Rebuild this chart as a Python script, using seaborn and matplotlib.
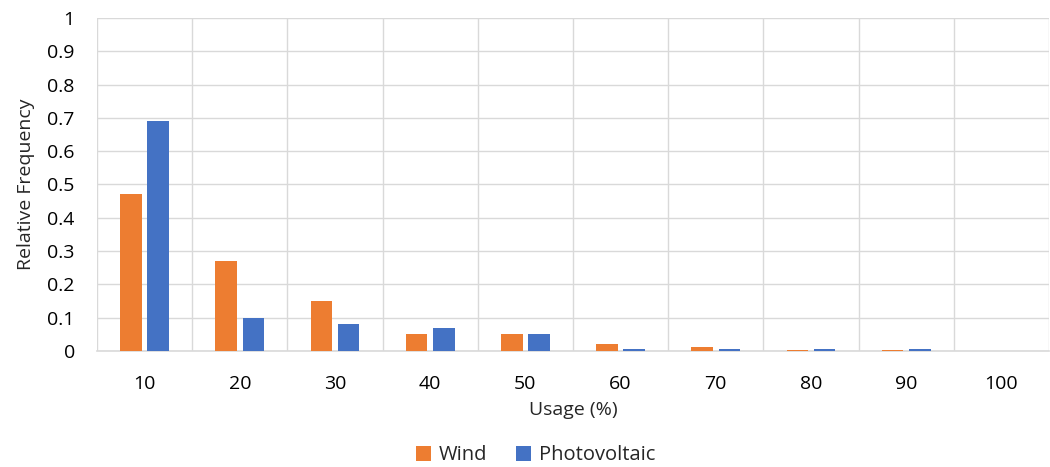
import matplotlib
matplotlib.use("Agg")
import matplotlib.pyplot as plt
import seaborn as sns
import pandas as pd
from matplotlib.ticker import FixedLocator, FuncFormatter
from matplotlib.patches import Patch

usage = ["10", "20", "30", "40", "50", "60", "70", "80", "90", "100"]
wind = [0.47, 0.27, 0.15, 0.05, 0.05, 0.022, 0.011, 0.004, 0.004, 0.0]
photovoltaic = [0.69, 0.10, 0.08, 0.07, 0.05, 0.005, 0.005, 0.005, 0.005, 0.0]
series_names = ["Wind", "Photovoltaic"]
colors = ["#ED7D31", "#4472C4"]

df = pd.DataFrame({
    "Usage": usage * 2,
    "Value": wind + photovoltaic,
    "Series": [series_names[0]] * len(usage) + [series_names[1]] * len(usage),
})

sns.set_theme(style="white")
plt.rcParams["font.family"] = ["Open Sans", "DejaVu Sans"]

fig = plt.figure(figsize=(10.5, 4.67), dpi=100)
ax = fig.add_axes([0.0924, 0.2484, 0.9066, 0.7131])

sns.barplot(data=df, x="Usage", y="Value", hue="Series", order=usage,
            hue_order=series_names, palette=colors, saturation=1,
            width=0.573, gap=0.21, edgecolor="none", linewidth=0,
            legend=False, ax=ax, zorder=3)

ax.set_xlim(-0.5, len(usage) - 0.5)
ax.set_ylim(0, 1)
ax.yaxis.set_major_locator(FixedLocator([i / 10 for i in range(11)]))
ax.yaxis.set_major_formatter(
    FuncFormatter(lambda v, p: "0" if v == 0 else f"{v:.1f}".rstrip("0").rstrip(".")))
ax.grid(axis="y", color="#D9D9D9", linewidth=1.0, zorder=0)
for b in range(len(usage) + 1):
    ax.axvline(b - 0.5, color="#D9D9D9", linewidth=1.0, zorder=0)

for s in ["top", "right", "left"]:
    ax.spines[s].set_visible(False)
ax.spines["bottom"].set_color("#D9D9D9")
ax.spines["bottom"].set_linewidth(1.2)

ax.tick_params(axis="both", length=0, labelsize=14, colors="#000000")
ax.tick_params(axis="y", pad=16)
ax.tick_params(axis="x", pad=17)
ax.set_xlabel("Usage (%)", fontsize=14, labelpad=6)
ax.set_ylabel("Relative Frequency", fontsize=14, labelpad=9)

handles = [Patch(facecolor=c, edgecolor="none") for c in colors]
fig.legend(handles, series_names, loc="lower center", bbox_to_anchor=(0.51, -0.035),
           ncol=2, frameon=False, fontsize=14.5, handlelength=0.75, handleheight=0.75,
           handletextpad=0.4, columnspacing=1.4)

fig.savefig("out.png", dpi=100)
